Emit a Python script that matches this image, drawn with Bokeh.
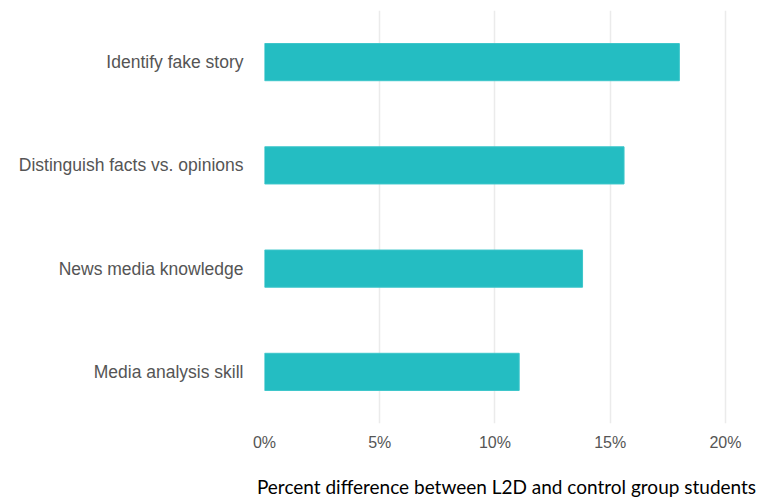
from bokeh.plotting import figure
from bokeh.models import ColumnDataSource, FixedTicker, PrintfTickFormatter, Range1d
from bokeh.embed import file_html
from bokeh.resources import INLINE

categories = ["Identify fake story", "Distinguish facts vs. opinions",
              "News media knowledge", "Media analysis skill"]
values = [18.0, 15.6, 13.8, 11.05]
tick_values = [0, 5, 10, 15, 20]
x_label = "Percent difference between L2D and control group students"

src = ColumnDataSource(dict(cat=categories, val=values))

p = figure(width=759, height=500, y_range=list(reversed(categories)),
           x_range=Range1d(0, 21), output_backend="svg", toolbar_location=None,
           min_border_left=264, min_border_top=10, min_border_right=11, min_border_bottom=10)

p.hbar(y="cat", right="val", left=0, height=0.36, source=src,
       fill_color="#24BDC2", line_color="#3CC6CA", line_width=1)

p.outline_line_color = None
p.background_fill_color = "white"

xa = p.xaxis[0]
xa.ticker = FixedTicker(ticks=tick_values)
xa.formatter = PrintfTickFormatter(format="%d%%")
xa.axis_line_color = None
xa.major_tick_line_color = None
xa.minor_tick_line_color = None
xa.major_label_text_font = "Liberation Sans"
xa.major_label_text_font_size = "16px"
xa.major_label_text_color = "#555555"
xa.major_label_standoff = 4
xa.axis_label = x_label
xa.axis_label_text_font = "Lato"
xa.axis_label_text_font_style = "normal"
xa.axis_label_text_font_size = "19px"
xa.axis_label_text_color = "#000000"
xa.axis_label_standoff = 21

ya = p.yaxis[0]
ya.axis_line_color = None
ya.major_tick_line_color = None
ya.minor_tick_line_color = None
ya.major_label_text_font = "Liberation Sans"
ya.major_label_text_font_size = "17.5px"
ya.major_label_text_color = "#555555"
ya.major_label_standoff = 15

p.xgrid.ticker = FixedTicker(ticks=[5, 10, 15, 20])
p.xgrid.grid_line_color = "#EBEBEB"
p.xgrid.grid_line_width = 1.5
p.ygrid.grid_line_color = None

open("out.html", "w").write(file_html(p, INLINE))
